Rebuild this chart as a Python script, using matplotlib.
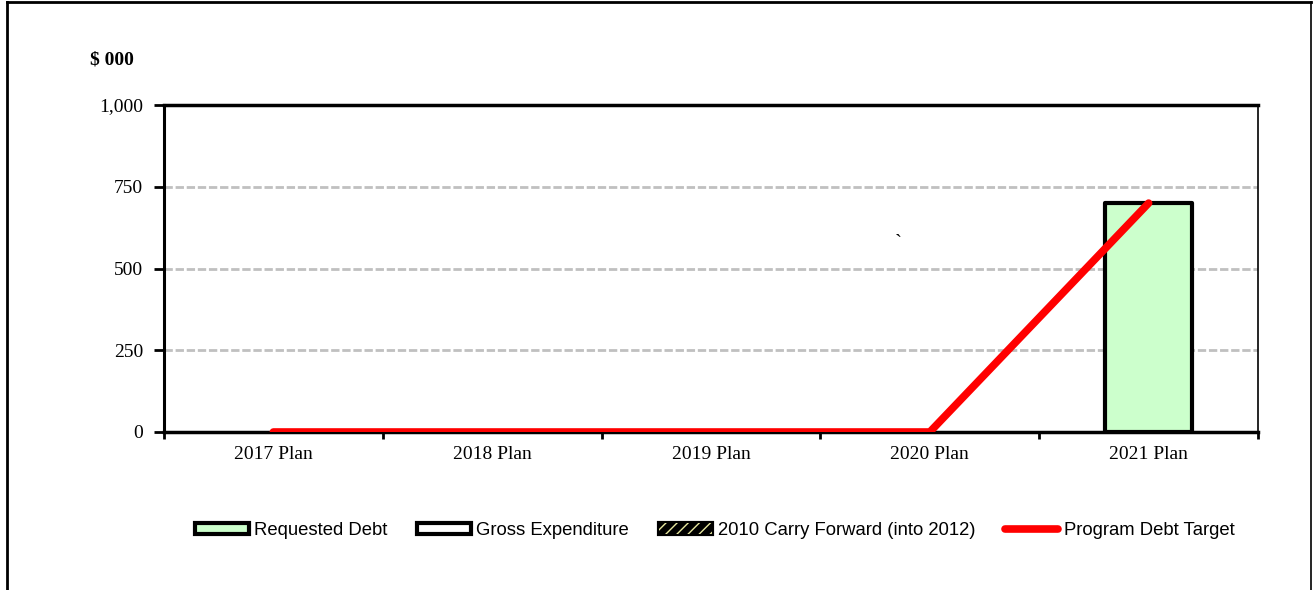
import matplotlib.pyplot as plt
from matplotlib.patches import Patch
from matplotlib.lines import Line2D
from matplotlib.legend_handler import HandlerTuple
import numpy as np

categories = ['2017 Plan', '2018 Plan', '2019 Plan', '2020 Plan', '2021 Plan']
requested_debt = [0, 0, 0, 0, 700]
debt_target = [0, 0, 0, 0, 700]
y_ticks = [0, 250, 500, 750, 1000]
y_tick_labels = ['0', '250', '500', '750', '1,000']

SERIF = 'Liberation Serif'
SANS = 'Liberation Sans'
GREEN = '#ccffcc'
RED = '#ff0000'

plt.rcParams['hatch.linewidth'] = 1.0

fig = plt.figure(figsize=(13.14, 5.90), dpi=100)
ax = fig.add_axes([0.1248, 0.2678, 0.8326, 0.5542])

x = np.arange(len(categories))
debt = np.array(requested_debt)
shown = debt > 0  # empty years would only leave a stray edge on the axis
ax.bar(x[shown], debt[shown], width=0.4, color=GREEN, edgecolor='black',
       linewidth=3, joinstyle='round', zorder=3)
ax.plot(x, debt_target, color=RED, linewidth=5.5, solid_capstyle='round',
        solid_joinstyle='round', zorder=4)

ax.set_xlim(-0.5, len(categories) - 0.5)
ax.set_ylim(0, 1000)
ax.set_yticks(y_ticks)
ax.set_yticklabels(y_tick_labels, fontfamily=SERIF, fontsize=14)
ax.set_xticks(x)
ax.set_xticklabels(categories, fontfamily=SERIF, fontsize=14)
ax.set_xticks(np.arange(len(categories) + 1) - 0.5, minor=True)
ax.tick_params(axis='x', which='major', length=0, pad=10)
ax.tick_params(axis='x', which='minor', length=5, width=2, direction='out')
ax.tick_params(axis='y', length=7, width=2, direction='out', pad=8)

for y in y_ticks[1:-1]:
    ax.axhline(y, color='#c0c0c0', linewidth=2, linestyle=(0, (3, 1)), zorder=1)

for side, lw in [('left', 2.2), ('top', 2.5), ('bottom', 2.5), ('right', 1.2)]:
    ax.spines[side].set_linewidth(lw)

fig.text(0.0855, 0.898, '$ 000', fontfamily=SERIF, fontweight='bold',
         fontsize=14, ha='center', va='center')
fig.text(0.6835, 0.585, '`', fontfamily=SERIF, fontsize=15,
         ha='center', va='center')

# outer frame (open at the bottom)
fig.add_artist(Line2D([0.0057, 0.0057], [0, 0.997], color='black', lw=2,
                      transform=fig.transFigure))
fig.add_artist(Line2D([0.0057, 0.9977], [0.997, 0.997], color='black', lw=2,
                      transform=fig.transFigure))
fig.add_artist(Line2D([0.9977, 0.9977], [0, 0.997], color='black', lw=1.2,
                      transform=fig.transFigure))

h_req = Patch(facecolor=GREEN, edgecolor='black', linewidth=3, joinstyle='round')
h_gross = Patch(facecolor='white', edgecolor='black', linewidth=3, joinstyle='round')
h_carry = (Patch(facecolor='black', edgecolor='black', linewidth=3, joinstyle='round'),
           Patch(facecolor='none', edgecolor='#e8e8a0', hatch='///', linewidth=0))
h_target = Line2D([], [], color=RED, linewidth=5.5, solid_capstyle='round')

fig.legend([h_req, h_gross, h_carry, h_target],
           ['Requested Debt', 'Gross Expenditure', '2010 Carry Forward (into 2012)',
            'Program Debt Target'],
           handler_map={tuple: HandlerTuple(ndivide=1, pad=0)},
           loc='center', bbox_to_anchor=(0.544, 0.101), ncol=4, frameon=False,
           prop={'family': SANS, 'size': 13.3}, handlelength=2.9, handleheight=0.55,
           handletextpad=0.3, columnspacing=1.6)

fig.savefig('out.png', dpi=100)
